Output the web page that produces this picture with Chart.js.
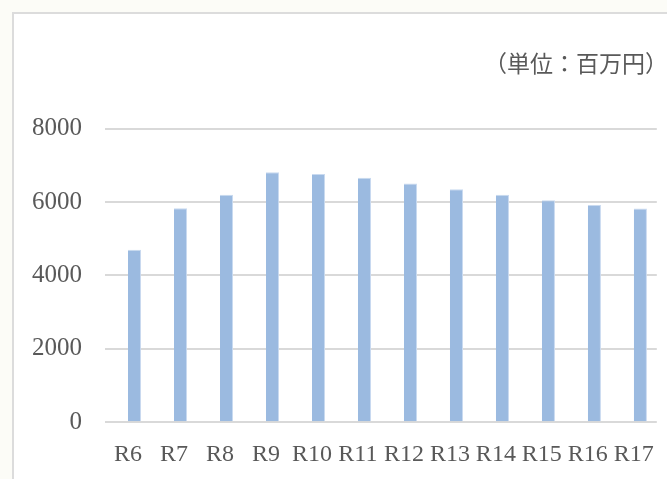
<!DOCTYPE html>
<html>
<head>
<meta charset="utf-8">
<script src="https://cdn.jsdelivr.net/npm/chart.js@4/dist/chart.umd.min.js"></script>
<style>
  html, body { margin: 0; padding: 0; background: #fcfcf7; overflow: hidden; }
  #frame { position: absolute; left: 12px; top: 12px; width: 700px; height: 520px; background: #ffffff; border: 2px solid #dcdcdc; box-sizing: border-box; }
  #wrap { position: absolute; left: 0; top: 0; width: 667px; height: 479px; overflow: hidden; }
</style>
</head>
<body>
<div id="frame"></div>
<div id="wrap"><canvas id="c" width="672" height="495"></canvas></div>
<script>
const categories = ['R6','R7','R8','R9','R10','R11','R12','R13','R14','R15','R16','R17'];
const values = [4700, 5830, 6200, 6810, 6760, 6660, 6505, 6350, 6195, 6050, 5915, 5825];
const spacer = categories.map(() => null);
const yTicks = [0, 2000, 4000, 6000, 8000];
const unitLabel = '（単位：百万円）';

new Chart(document.getElementById('c'), {
  type: 'bar',
  data: {
    labels: categories,
    datasets: [{
      data: spacer,
      backgroundColor: 'rgba(0,0,0,0)',
      barPercentage: 1,
      categoryPercentage: 0.57
    }, {
      data: values,
      backgroundColor: '#9bbae0',
      borderColor: '#c9daf0',
      borderWidth: {top: 1, right: 1, left: 0, bottom: 0},
      barPercentage: 1,
      categoryPercentage: 0.57
    }]
  },
  options: {
    responsive: false,
    animation: false,
    devicePixelRatio: 1,
    layout: { padding: { left: 9, right: 4, top: 0, bottom: 8 } },
    plugins: {
      legend: { display: false },
      tooltip: { enabled: false },
      title: {
        display: true,
        text: unitLabel,
        align: 'end',
        color: '#595959',
        font: { family: '"Noto Sans CJK JP"', size: 23, weight: 'normal' },
        padding: { top: 49, bottom: 52 }
      }
    },
    scales: {
      x: {
        grid: { display: false, drawTicks: false },
        border: { display: false },
        ticks: {
          color: '#595959',
          font: { family: '"Liberation Serif"', size: 24 },
          padding: 18,
          maxRotation: 0,
          autoSkip: false
        }
      },
      y: {
        min: 0,
        max: 8000,
        afterBuildTicks: (scale) => { scale.ticks = yTicks.map(v => ({ value: v })); },
        grid: { color: '#d9d9d9', lineWidth: 2, drawTicks: false },
        border: { display: false },
        ticks: {
          color: '#595959',
          font: { family: '"Liberation Serif"', size: 25 },
          padding: 23,
          callback: (v) => String(v)
        }
      }
    }
  }
});
</script>
</body>
</html>
